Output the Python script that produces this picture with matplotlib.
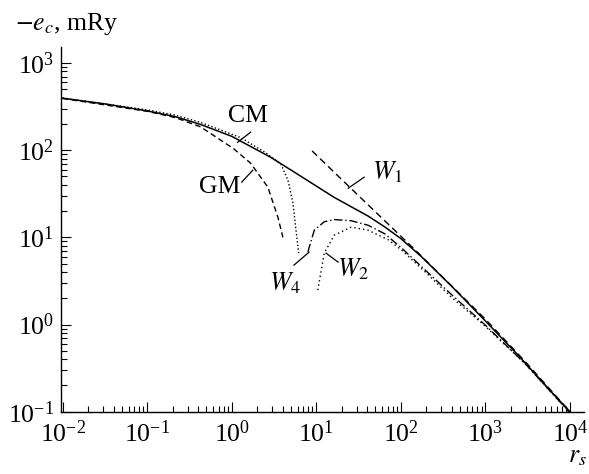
import numpy as np
import matplotlib
matplotlib.use('Agg')
import matplotlib.pyplot as plt
from matplotlib.ticker import NullFormatter

plt.rcParams['font.family'] = ['Liberation Serif', 'DejaVu Serif']
plt.rcParams['mathtext.fontset'] = 'stix'

# exact correlation energy (solid)
rs_exact = [0.01, 0.0318, 0.1, 0.216, 0.428, 1.0, 2.9, 6.58, 16.2, 41.1, 64.3, 101, 175, 398, 980, 2480, 6120, 10000]
ec_exact = [394, 339, 282, 242, 197, 144, 82.6, 50.1, 28.8, 17.5, 13.2, 9.6, 6.0, 2.75, 1.12, 0.437, 0.166, 0.1]

# CM (dotted, high density)
rs_cm = [0.01, 0.1, 0.216, 0.428, 1.28, 2.53, 3.81, 4.61, 5.29, 5.74, 6.18]
ec_cm = [397, 290, 252, 208, 139, 93, 69, 45.3, 24.7, 12.1, 6.6]

# GM (dashed, high density)
rs_gm = [0.01, 0.1, 0.216, 0.428, 1.05, 1.67, 2.67, 3.51, 4.02]
ec_gm = [392, 279, 236, 185, 104, 70.8, 37.6, 17.0, 10.0]

# W1 (dashed, low density limit)
rs_w1 = [8.9, 30, 100, 161, 1000, 3000, 10000]
ec_w1 = [98, 31.5, 10.3, 6.6, 1.15, 0.37, 0.1]

# W4 (dash-dot)
rs_w4 = [7.96, 8.2, 9.46, 12.4, 16.4, 25.8, 40.7, 64.3, 101, 200, 398, 980, 3000, 10000]
ec_w4 = [6.8, 7.6, 12.1, 15.1, 16.0, 15.5, 13.8, 11.0, 7.6, 4.1, 2.2, 1.0, 0.35, 0.097]

# W2 (dotted)
rs_w2 = [10.4, 12.4, 16.3, 25.8, 40.7, 70.5, 101, 200, 398, 980, 3000, 10000]
ec_w2 = [2.48, 6.6, 10.6, 13.1, 12.1, 9.4, 7.2, 3.9, 2.05, 0.97, 0.35, 0.097]

x_major = [1e-2, 1e-1, 1e0, 1e1, 1e2, 1e3, 1e4]
y_major = [1e-1, 1e0, 1e1, 1e2, 1e3]

fig = plt.figure(figsize=(5.89, 4.74), dpi=100)
ax = fig.add_axes([0.1031, 0.1314, 0.8884, 0.7688])

ax.plot(rs_exact, ec_exact, color='black', lw=1.1, ls='-')
ax.plot(rs_cm, ec_cm, color='black', lw=1.0, ls=(0, (1, 1.6)))
ax.plot(rs_gm, ec_gm, color='black', lw=1.0, ls=(0, (4, 2.5)))
ax.plot(rs_w1, ec_w1, color='black', lw=1.0, ls=(0, (5, 3)))
ax.plot(rs_w4, ec_w4, color='black', lw=1.0, ls=(0, (6, 2, 1, 2)))
ax.plot(rs_w2, ec_w2, color='black', lw=1.0, ls=(0, (1, 2.2)))

ax.set_xscale('log')
ax.set_yscale('log')

ax.set_xticks(x_major)
ax.set_xticks([m * d for d in x_major[:-1] for m in range(2, 10)], minor=True)
ax.set_yticks(y_major)
ax.set_yticks([m * d for d in y_major[:-1] for m in range(2, 10)], minor=True)
ax.xaxis.set_minor_formatter(NullFormatter())
ax.yaxis.set_minor_formatter(NullFormatter())
ax.set_xlim(10 ** -2.024, 10 ** 4.166)
ax.set_ylim(0.1, 10 ** 3.18)

for s in ['top', 'right']:
    ax.spines[s].set_visible(False)
for s in ['left', 'bottom']:
    ax.spines[s].set_linewidth(1.0)

ax.tick_params(which='both', direction='in', width=0.8, labelsize=18.5)
ax.tick_params(which='major', length=7)
ax.tick_params(which='minor', length=4.5)
ax.tick_params(axis='y', pad=5)
ax.tick_params(axis='x', pad=6)

# curve labels
fs = 18.5
ax.text(1.55, 245, 'CM', fontsize=fs, ha='center', va='center')
ax.plot([1.67, 1.17], [161, 123], color='black', lw=0.9)
ax.text(0.718, 37.6, 'GM', fontsize=fs, ha='center', va='center')
ax.plot([1.31, 1.77], [43, 58.9], color='black', lw=0.9)
ax.text(69, 55.8, r'$W_1$', fontsize=fs, ha='center', va='center')
ax.plot([36.8, 23.8], [49, 36.6], color='black', lw=0.9)
ax.text(4.25, 2.99, r'$W_4$', fontsize=fs, ha='center', va='center')
ax.plot([5.43, 8.19], [4.8, 6.76], color='black', lw=0.9)
ax.text(27.3, 4.33, r'$W_2$', fontsize=fs, ha='center', va='center')
ax.plot([13.0, 18.1], [6.59, 5.2], color='black', lw=0.9)

fig.text(15 / 589, 1 - 30 / 474, r'$-e_c$, mRy', fontsize=fs, ha='left', va='baseline')
fig.text(568 / 589, 1 - 462 / 474, r'$r_s$', fontsize=fs, ha='left', va='baseline')

fig.savefig('out.png', dpi=100)
